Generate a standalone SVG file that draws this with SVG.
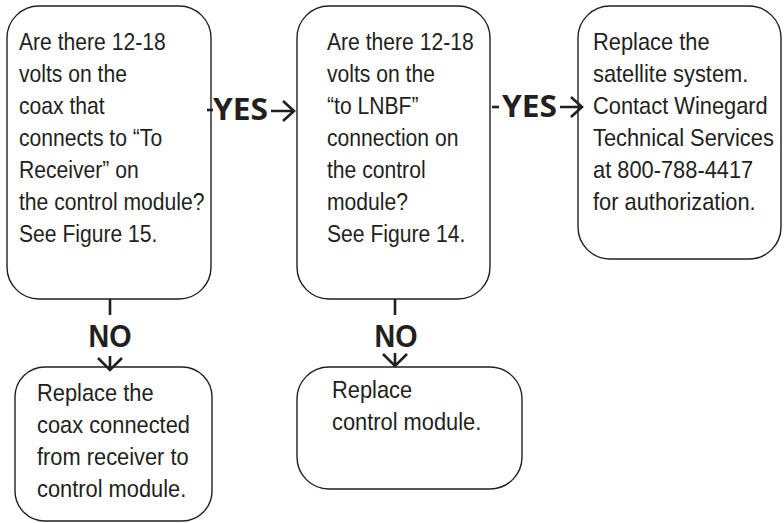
<svg xmlns="http://www.w3.org/2000/svg" width="784" height="523" viewBox="0 0 784 523">
<style>
.box{fill:#fff;stroke:#231f20;stroke-width:1.4}
.t{font-family:"Liberation Sans",Arial,sans-serif;font-size:24px;fill:#231f20}
.yes{font-family:"Open Sans","Liberation Sans",sans-serif;font-weight:700;font-size:30px;fill:#231f20}
.no{font-family:"Liberation Sans",Arial,sans-serif;font-weight:700;font-size:31px;fill:#231f20}
.ln{fill:none;stroke:#231f20;stroke-width:2.6}
</style>
<rect width="784" height="523" fill="#fff"/>
<g id="n1">
<rect class="box" x="7" y="6" width="204" height="293" rx="32"/>
<text class="t" transform="translate(19,0) scale(0.88,1)">
<tspan x="0" y="50">Are there 12-18</tspan>
<tspan x="0" y="82">volts on the</tspan>
<tspan x="0" y="114">coax that</tspan>
<tspan x="0" y="146">connects to “To</tspan>
<tspan x="0" y="178">Receiver” on</tspan>
<tspan x="0" y="210">the control module?</tspan>
<tspan x="0" y="242">See Figure 15.</tspan>
</text>
</g>
<g id="n2">
<rect class="box" x="297" y="6" width="193" height="293" rx="32"/>
<text class="t" transform="translate(327,0) scale(0.88,1)">
<tspan x="0" y="50">Are there 12-18</tspan>
<tspan x="0" y="82">volts on the</tspan>
<tspan x="0" y="114">“to LNBF”</tspan>
<tspan x="0" y="146">connection on</tspan>
<tspan x="0" y="178">the control</tspan>
<tspan x="0" y="210">module?</tspan>
<tspan x="0" y="242">See Figure 14.</tspan>
</text>
</g>
<g id="n3">
<rect class="box" x="578" y="6" width="203" height="253" rx="32"/>
<text class="t" transform="translate(593,0) scale(0.91,1)">
<tspan x="0" y="50">Replace the</tspan>
<tspan x="0" y="82">satellite system.</tspan>
<tspan x="0" y="114">Contact Winegard</tspan>
<tspan x="0" y="146">Technical Services</tspan>
<tspan x="0" y="178">at 800-788-4417</tspan>
<tspan x="0" y="210">for authorization.</tspan>
</text>
</g>
<g id="n4">
<rect class="box" x="15" y="367" width="197" height="154" rx="30"/>
<text class="t" transform="translate(37,0) scale(0.91,1)">
<tspan x="0" y="401">Replace the</tspan>
<tspan x="0" y="433">coax connected</tspan>
<tspan x="0" y="465">from receiver to</tspan>
<tspan x="0" y="497">control module.</tspan>
</text>
</g>
<g id="n5">
<rect class="box" x="297" y="367" width="225" height="122" rx="32"/>
<text class="t" transform="translate(332,0) scale(0.91,1)">
<tspan x="0" y="398">Replace</tspan>
<tspan x="0" y="430">control module.</tspan>
</text>
</g>
<g id="connectors">
<line class="ln" x1="207" y1="110" x2="213" y2="110" stroke-width="2"/>
<text class="yes" x="213" y="120" textLength="55" lengthAdjust="spacingAndGlyphs">YES</text>
<path class="ln" d="M271,111 H294 M283,101 L294,111 L283,121"/>
<line class="ln" x1="492" y1="107" x2="499" y2="107" stroke-width="2"/>
<text class="yes" x="502" y="117" textLength="55" lengthAdjust="spacingAndGlyphs">YES</text>
<path class="ln" d="M560,107 H582 M571,97 L582,107 L571,117"/>
<line class="ln" x1="110" y1="299" x2="110" y2="315"/>
<text class="no" x="110" y="347" text-anchor="middle" textLength="43" lengthAdjust="spacingAndGlyphs">NO</text>
<path class="ln" d="M110,356 V370 M98,358 L110,370 L122,358"/>
<line class="ln" x1="395" y1="299" x2="395" y2="315"/>
<text class="no" x="396" y="347" text-anchor="middle" textLength="43" lengthAdjust="spacingAndGlyphs">NO</text>
<path class="ln" d="M395,353 V366 M383,354 L395,366 L407,354"/>
</g>
</svg>
